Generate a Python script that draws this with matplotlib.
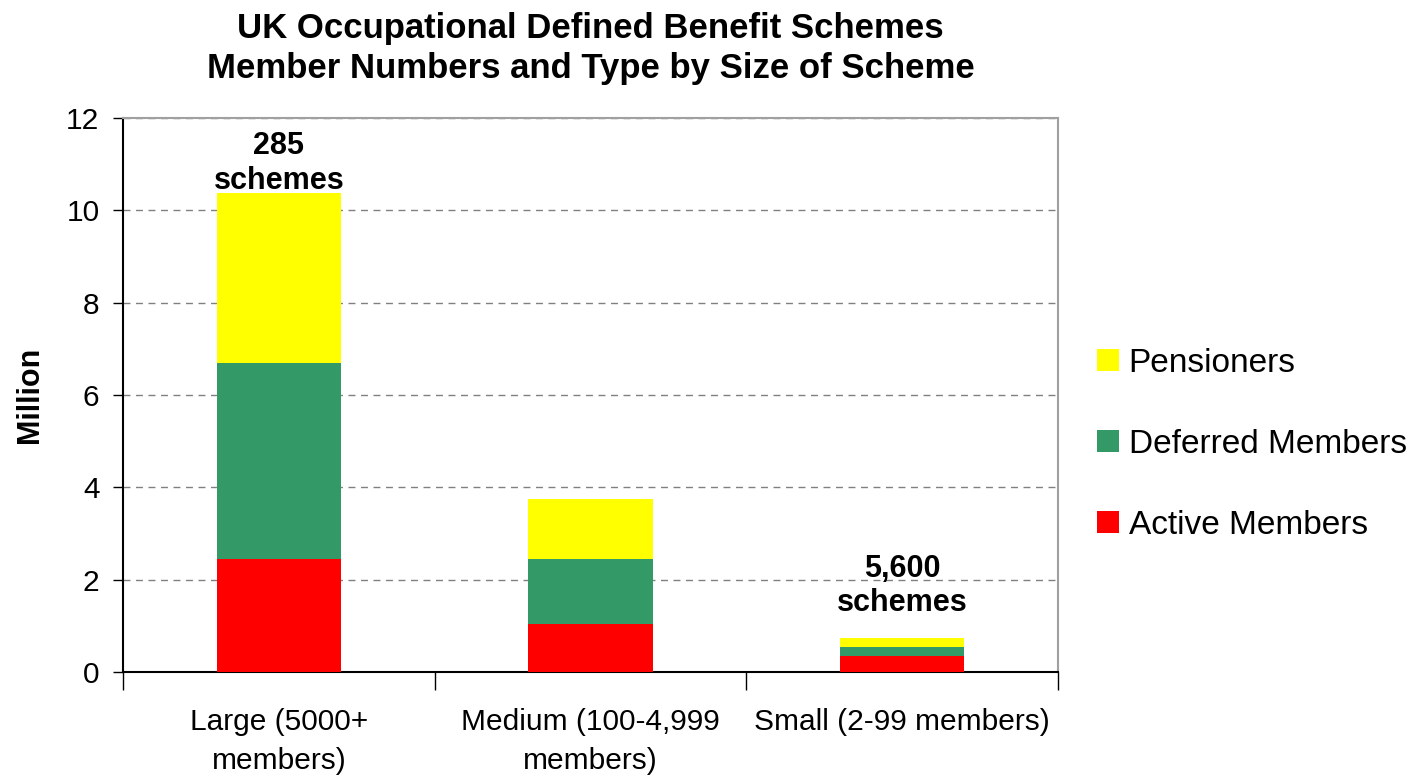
import matplotlib.pyplot as plt
import numpy as np

plt.rcParams["font.family"] = ["Liberation Sans", "DejaVu Sans"]

# member numbers (million) by scheme size
categories = ["Large (5000+\nmembers)", "Medium (100-4,999\nmembers)", "Small (2-99 members)"]
active = [2.45, 1.04, 0.35]
deferred = [4.25, 1.41, 0.19]
pensioners = [3.67, 1.29, 0.20]
scheme_notes = {0: "285\nschemes", 2: "5,600\nschemes"}

fig = plt.figure(figsize=(14.21, 7.79), dpi=100)
ax = fig.add_axes([0.0866, 0.1374, 0.6579, 0.7111])

x = np.arange(len(categories))
width = 0.40
bottom2 = np.array(active) + np.array(deferred)
b1 = ax.bar(x, active, width, color="#ff0000", label="Active Members", zorder=3)
b2 = ax.bar(x, deferred, width, bottom=active, color="#339966", label="Deferred Members", zorder=3)
b3 = ax.bar(x, pensioners, width, bottom=bottom2, color="#ffff00", label="Pensioners", zorder=3)

# scheme counts sit above the bars (small one floats a bit higher)
totals = bottom2 + np.array(pensioners)
lift = {0: -2, 2: 14}
for i, txt in scheme_notes.items():
    ax.annotate(txt, (x[i], totals[i]), xytext=(0, lift[i]), textcoords="offset points",
                ha="center", va="bottom", fontsize=22, fontweight="bold",
                linespacing=1.2, zorder=4)

ax.set_xlim(-0.5, 2.5)
ax.set_ylim(0, 12)
ax.set_yticks(range(0, 13, 2))
ax.tick_params(axis="y", labelsize=21.5, direction="out", length=7, width=1, pad=10)
ax.set_xticks(x)
ax.set_xticklabels(categories, fontsize=21.5, linespacing=1.5)
ax.tick_params(axis="x", length=0, pad=26)
# boundary ticks between categories
ax.set_xticks([-0.5, 0.5, 1.5, 2.5], minor=True)
ax.tick_params(axis="x", which="minor", direction="out", length=13, width=1)

ax.yaxis.grid(True, linestyle=(0, (5, 4)), color="#808080", linewidth=1, zorder=0)
for side in ["top", "right"]:
    ax.spines[side].set_color("#a0a0a0")
    ax.spines[side].set_linewidth(1.5)
ax.spines["left"].set_linewidth(1.5)
ax.spines["bottom"].set_linewidth(1.5)

ax.set_ylabel("Million", fontsize=22, fontweight="bold", labelpad=15)
ax.set_title("UK Occupational Defined Benefit Schemes\nMember Numbers and Type by Size of Scheme",
             fontsize=25, fontweight="bold", pad=29, linespacing=1.25)

fig.legend(handles=[b3, b2, b1], loc="center left", bbox_to_anchor=(0.7625, 0.43),
           frameon=False, fontsize=24, handlelength=0.65, handleheight=0.65,
           handletextpad=0.3, labelspacing=1.5, borderaxespad=0)

fig.savefig("out.png", dpi=100)
